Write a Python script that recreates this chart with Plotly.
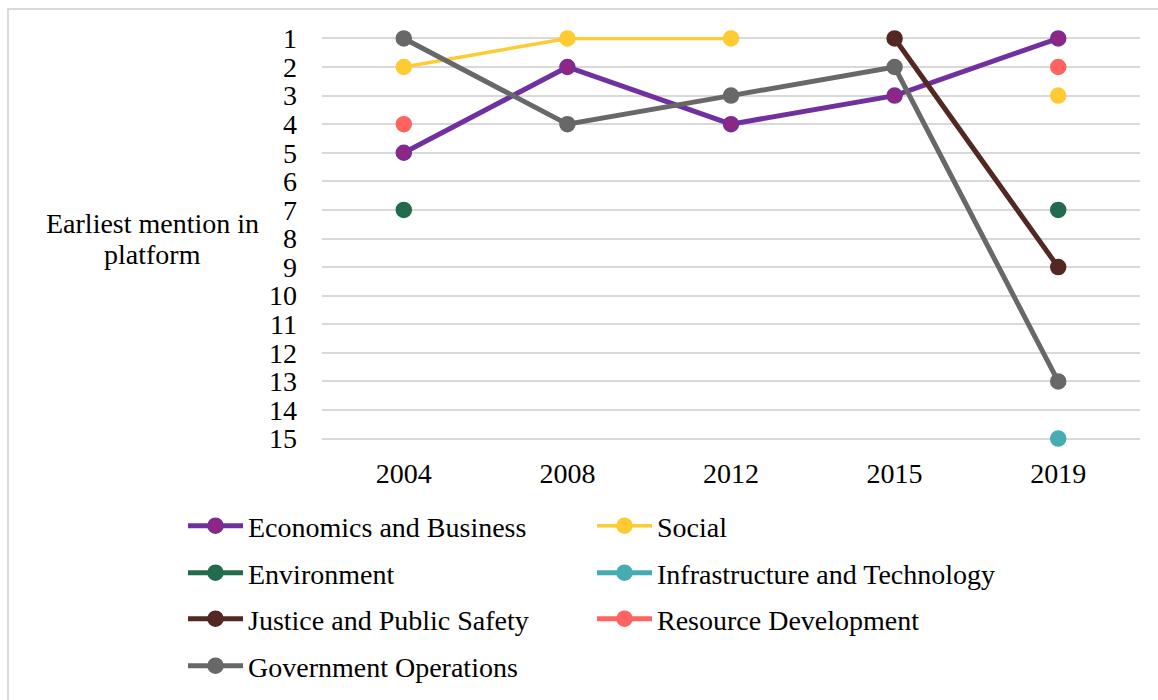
import plotly.graph_objects as go

# Platform years and the rank at which each policy area is first mentioned
years = ["2004", "2008", "2012", "2015", "2019"]

economics_business = [5, 2, 4, 3, 1]
social = [2, 1, 1, None, 3]
environment = [7, None, None, None, 7]
infrastructure_technology = [None, None, None, None, 15]
justice_public_safety = [None, None, None, 1, 9]
resource_development = [4, None, None, None, 2]
government_operations = [1, 4, 3, 2, 13]

rank_ticks = list(range(1, 16))
axis_title_lines = ["Earliest mention in", "platform"]

# name, values, line colour, marker fill, line width, legend row
series = [
    ("Economics and Business", economics_business, "#7030A0", "#8E2683", 5, "legend"),
    ("Social", social, "#FFCB32", "#FFCB32", 3.5, "legend"),
    ("Environment", environment, "#236B4E", "#236B4E", 5, "legend2"),
    ("Infrastructure and Technology", infrastructure_technology, "#46ACB1", "#46ACB1", 5, "legend2"),
    ("Justice and Public Safety", justice_public_safety, "#532822", "#532822", 5, "legend3"),
    ("Resource Development", resource_development, "#FF6461", "#FF6461", 5, "legend3"),
    ("Government Operations", government_operations, "#686868", "#686868", 5, "legend4"),
]

FONT = "Times New Roman, Liberation Serif, serif"
FS = 28

fig = go.Figure()
for name, vals, line_col, fill_col, width, leg in series:
    fig.add_trace(go.Scatter(
        x=years, y=vals, name=name, mode="lines+markers",
        line=dict(color=line_col, width=width),
        marker=dict(size=15, color=fill_col, line=dict(color=line_col, width=1.5)),
        connectgaps=False, cliponaxis=False, legend=leg,
    ))

# plot area geometry (pixels)
L, R, T, B = 322, 18, 37, 260
W = 1158 - L - R
H = 700 - T - B


def py(pix):
    return (T + H - pix) / H


def px(pix):
    return (pix - L) / W


legend_font = dict(family=FONT, size=FS, color="black")
row_centres = [526, 573, 619, 666]
legends = {}
for i, yc in enumerate(row_centres):
    key = "legend" if i == 0 else f"legend{i + 1}"
    legends[key] = dict(
        orientation="h", x=px(183), y=py(yc), xanchor="left", yanchor="middle",
        entrywidth=339, font=legend_font, bgcolor="rgba(0,0,0,0)",
        itemwidth=55, traceorder="normal",
    )

# two-line axis title with tighter line spacing
title_annotations = [
    dict(
        text=line, xref="paper", yref="paper",
        x=px(152), y=py(yc), xanchor="center", yanchor="middle",
        showarrow=False, font=dict(family=FONT, size=FS, color="black"),
    )
    for line, yc in zip(axis_title_lines, [223, 254])
]

fig.update_layout(
    width=1158, height=700,
    margin=dict(l=L, r=R, t=T, b=B, pad=0, autoexpand=False),
    paper_bgcolor="white", plot_bgcolor="white",
    font=dict(family=FONT, size=FS, color="black"),
    xaxis=dict(
        type="category", range=[-0.5, 4.5], showgrid=False, zeroline=False,
        showline=False, ticks="", ticklabelstandoff=14,
        tickfont=dict(family=FONT, size=FS, color="black"),
    ),
    yaxis=dict(
        range=[15.05, 0.95], tickvals=rank_ticks, showgrid=True,
        gridcolor="#D9D9D9", gridwidth=1.5, zeroline=False, showline=False,
        ticks="", ticklabelstandoff=24,
        tickfont=dict(family=FONT, size=FS, color="black"),
    ),
    showlegend=True,
    annotations=title_annotations,
    shapes=[dict(
        type="rect", xref="paper", yref="paper",
        x0=px(8), x1=px(1170), y0=py(712), y1=py(9),
        line=dict(color="#D9D9D9", width=2), fillcolor="rgba(0,0,0,0)", layer="below",
    )],
    **legends,
)

fig.write_html("out.html")
